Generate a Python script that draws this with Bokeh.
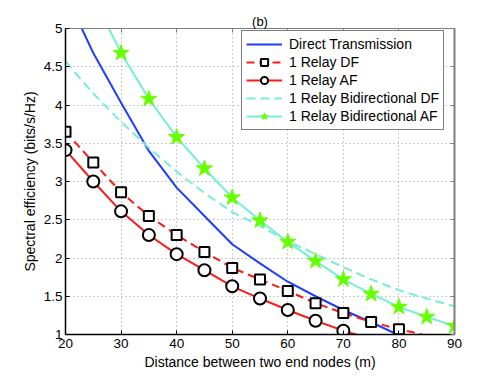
from bokeh.plotting import figure
from bokeh.models import Range1d, FixedTicker, LinearAxis, Legend, LegendItem, ColumnDataSource
from bokeh.embed import file_html
from bokeh.resources import INLINE

# ---------------- data ----------------
distance = [20, 25, 30, 35, 40, 45, 50, 55, 60, 65, 70, 75, 80, 85, 90]
direct_tx = [5.45, 4.68, 4.03, 3.40, 2.92, 2.55, 2.18, 1.93, 1.69, 1.50, 1.32, 1.16, 0.99]
relay_df = [3.65, 3.25, 2.86, 2.55, 2.30, 2.08, 1.87, 1.72, 1.57, 1.41, 1.28, 1.165, 1.07, 0.985]
relay_af = [3.41, 3.00, 2.61, 2.30, 2.05, 1.84, 1.63, 1.47, 1.32, 1.18, 1.05, 0.94]
bidir_df = [4.57, 4.15, 3.78, 3.44, 3.13, 2.85, 2.60, 2.42, 2.22, 2.05, 1.88, 1.72, 1.58, 1.47, 1.37]
bidir_af = [6.20, 5.41, 4.68, 4.08, 3.58, 3.17, 2.79, 2.49, 2.21, 1.96, 1.72, 1.53, 1.36, 1.23, 1.11]

series_labels = ["Direct Transmission", "1 Relay DF", "1 Relay AF",
                 "1 Relay Bidirectional DF", "1 Relay Bidirectional AF"]
x_ticks = [20, 30, 40, 50, 60, 70, 80, 90]
y_ticks = [1, 1.5, 2, 2.5, 3, 3.5, 4, 4.5, 5]
y_tick_labels = ["1", "1.5", "2", "2.5", "3", "3.5", "4", "4.5", "5"]
title_text = "(b)"
x_label = "Distance between two end nodes (m)"
y_label = "Spectral efficiency (bits/s/Hz)"
X_MIN, X_MAX, Y_MIN, Y_MAX = 20, 90, 1, 5

FONT = "Liberation Sans"

p = figure(width=501, height=377, output_backend="svg", toolbar_location=None,
           x_range=Range1d(X_MIN, X_MAX), y_range=Range1d(Y_MIN, Y_MAX),
           min_border_left=65, min_border_right=47, min_border_top=28, min_border_bottom=43,
           title=title_text)
p.outline_line_color = None
p.background_fill_color = "white"
p.border_fill_color = "white"

p.title.align = "center"
p.title.text_font = FONT
p.title.text_font_size = "13px"
p.title.text_font_style = "normal"
p.title.text_color = "black"
p.title.standoff = 0

# grid
for g in (p.xgrid, p.ygrid):
    g.grid_line_color = "#9a9a9a"
    g.grid_line_dash = "1 3"
    g.grid_line_width = 1
p.xgrid.ticker = FixedTicker(ticks=x_ticks)
p.ygrid.ticker = FixedTicker(ticks=y_ticks)

def style_axis(ax, ticks, labels=None, color="black", width=1.5, show_labels=True):
    ax.ticker = FixedTicker(ticks=ticks)
    if labels is not None:
        ax.major_label_overrides = {t: l for t, l in zip(ticks, labels)}
    ax.axis_line_color = color
    ax.axis_line_width = width
    ax.major_tick_line_color = color
    ax.major_tick_in = 4
    ax.major_tick_out = 0
    ax.minor_tick_line_color = None
    ax.major_label_text_font = FONT
    if show_labels:
        ax.major_label_text_font_size = "13.5px"
        ax.major_label_text_color = "black"
    else:
        ax.major_label_text_font_size = "3px"
        ax.major_label_text_color = None
        ax.major_label_standoff = 0

xa = p.xaxis[0]
ya = p.yaxis[0]
style_axis(xa, x_ticks)
style_axis(ya, y_ticks, y_tick_labels)
xa.major_label_standoff = 4
ya.major_label_standoff = 3
xa.axis_label = x_label
ya.axis_label = y_label
for ax in (xa, ya):
    ax.axis_label_text_font = FONT
    ax.axis_label_text_font_size = "14px"
    ax.axis_label_text_font_style = "normal"
    ax.axis_label_text_color = "black"
xa.axis_label_standoff = 3
ya.axis_label_standoff = 3

top_ax = LinearAxis()
right_ax = LinearAxis()
style_axis(top_ax, x_ticks, color="#7f7f7f", width=1, show_labels=False)
style_axis(right_ax, y_ticks, color="#7f7f7f", width=2, show_labels=False)
p.add_layout(top_ax, "above")
p.add_layout(right_ax, "right")

def in_range(xs, ys):
    pts = [(x, y) for x, y in zip(xs, ys) if Y_MIN <= y <= Y_MAX and X_MIN <= x <= X_MAX]
    return dict(x=[a for a, _ in pts], y=[b for _, b in pts])

# lines
l_direct = p.line(distance[:len(direct_tx)], direct_tx, line_color="#1f3dff", line_width=2)
l_bdf = p.line(distance[:len(bidir_df)], bidir_df, line_color="#74efd6", line_width=2, line_dash="9 5")
l_baf = p.line(distance[:len(bidir_af)], bidir_af, line_color="#74efd6", line_width=2)
l_df = p.line(distance[:len(relay_df)], relay_df, line_color="#ff1a1a", line_width=2, line_dash="8 5")
l_af = p.line(distance[:len(relay_af)], relay_af, line_color="#ff1a1a", line_width=2)

# markers
m_df = p.scatter("x", "y", source=ColumnDataSource(in_range(distance, relay_df)),
                 marker="square", size=10, fill_color="white", line_color="black", line_width=2)
m_af = p.scatter("x", "y", source=ColumnDataSource(in_range(distance, relay_af)),
                 marker="circle", size=12, fill_color="white", line_color="black", line_width=2)
m_baf = p.scatter("x", "y", source=ColumnDataSource(in_range(distance, bidir_af)),
                  marker="star", size=17, fill_color="#66ff00", line_color="#66ff00", line_width=1)

legend = Legend(items=[
    LegendItem(label=series_labels[0], renderers=[l_direct]),
    LegendItem(label=series_labels[1], renderers=[l_df, m_df]),
    LegendItem(label=series_labels[2], renderers=[l_af, m_af]),
    LegendItem(label=series_labels[3], renderers=[l_bdf]),
    LegendItem(label=series_labels[4], renderers=[l_baf, m_baf]),
], location=(176, 204))
legend.label_text_font = FONT
legend.label_text_font_size = "14px"
legend.label_text_color = "black"
legend.padding = 4
legend.spacing = 0
legend.margin = 0
legend.glyph_width = 36
legend.glyph_height = 18
legend.label_height = 18
legend.label_standoff = 7
legend.border_line_color = "black"
legend.border_line_width = 1
legend.background_fill_color = "white"
legend.background_fill_alpha = 1
p.add_layout(legend, "center")

open("out.html", "w").write(file_html(p, INLINE))
